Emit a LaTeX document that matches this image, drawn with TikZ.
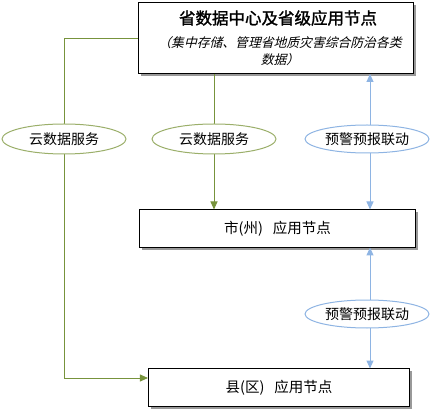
\documentclass[tikz,border=0pt]{standalone}
\usepackage{fontspec}
\setmainfont{Noto Sans CJK SC}
\newfontfamily\cjk{Noto Sans CJK SC}
\newfontfamily\cjkit[FakeSlant=0.25]{Noto Sans CJK SC}
\newfontfamily\cjkbf[FakeBold=1.5]{Noto Sans CJK SC}
\usetikzlibrary{shapes.geometric,arrows.meta}
\definecolor{grn}{HTML}{77933C}
\definecolor{grnl}{HTML}{9BAF6A}
\definecolor{blu}{HTML}{8EB4E3}
\tikzset{
  cloud/.style={ellipse, draw=grnl, line width=1pt, fill=white, minimum width=124pt, minimum height=30pt, inner sep=0pt, font=\cjk\fontsize{14}{16}\selectfont},
  warn/.style={ellipse, draw=blu, line width=1pt, fill=white, minimum width=124pt, minimum height=28pt, inner sep=0pt, font=\cjk\fontsize{14}{16}\selectfont},
  rbox/.style={draw=black, line width=1.1pt, fill=white, inner sep=0pt},
  gline/.style={draw=grn, line width=0.9pt},
  bline/.style={draw=blu, line width=1pt},
  garr/.style={-{Triangle[length=8pt,width=7pt]}},
  barr/.style={{Triangle[length=8pt,width=7pt]}-{Triangle[length=8pt,width=7pt]}},
}
\begin{document}
\begin{tikzpicture}[x=1pt,y=-1pt]
\useasboundingbox (0,0) rectangle (433,411);
% shadows
\fill[gray!80] (141,5) rectangle (416,76);
\fill[gray!80] (142,212) rectangle (418,250);
\fill[gray!80] (151,371) rectangle (412,409);
% boxes
\node[rbox, minimum width=275pt, minimum height=71pt] (top) at (276,38) {};
\node[font=\cjkbf\fontsize{16.5}{19}\selectfont] (toptitle) at (278,18) {省数据中心及省级应用节点};
\node[font=\cjkit\fontsize{12.8}{17}\selectfont, align=center, text width=272pt] (topsub) at (280,51.5) {（集中存储、管理省地质灾害综合防治各类\\数据）};
\node[rbox, minimum width=276pt, minimum height=38pt, font=\cjk\fontsize{14.5}{16}\selectfont] (mid) at (277.5,228.5) {市(州)\ \ \ 应用节点};
\node[rbox, minimum width=261pt, minimum height=38pt, font=\cjk\fontsize{14.5}{16}\selectfont] (bot) at (279,387.5) {县(区)\ \ \ 应用节点};
% coordinates
\coordinate (c1) at (64,38);
\coordinate (c2) at (64,378);
\coordinate (tg) at (214,74);
\coordinate (mg) at (214,209.5);
\coordinate (tb) at (370,74);
\coordinate (mb) at (370,209.5);
\coordinate (mb2) at (370,247.5);
\coordinate (bb) at (370,368.5);
% connectors
\draw[gline, garr] (top.west |- c1) -- (c1) -- (c2) -- (bot.west |- c2);
\draw[gline, garr] (tg) -- (mg);
\draw[bline, barr] (tb) -- (mb);
\draw[bline, barr] (mb2) -- (bb);
% ellipses
\node[cloud] (e1) at (64,139) {云数据服务};
\node[cloud] (e2) at (214,139) {云数据服务};
\node[warn] (e3) at (367,139) {预警预报联动};
\node[warn] (e4) at (367,314) {预警预报联动};
\end{tikzpicture}
\end{document}
